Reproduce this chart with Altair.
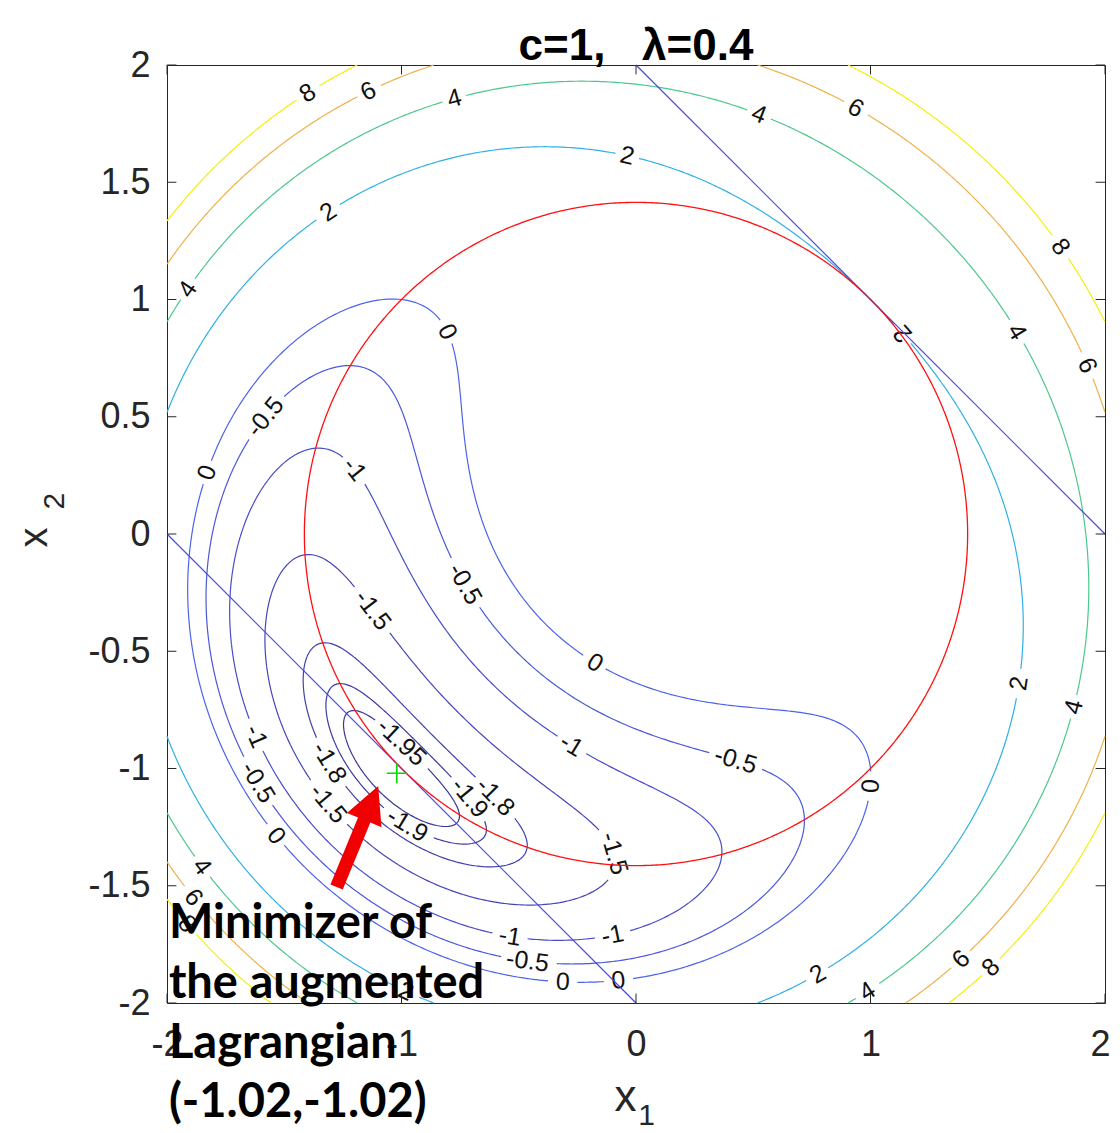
import numpy as np
import pandas as pd
import altair as alt

# ---------------- problem parameters (from the title) ----------------
C_PEN = 1.0
LAMBDA = 0.4

# contour levels and their colours
levels = [-1.95, -1.9, -1.8, -1.5, -1, -0.5, 0, 2, 4, 6, 8]
level_colors = ["#3b3796", "#3e3aa0", "#4240ab", "#4545bb", "#484dcb", "#4a57dc",
                "#4c63ea", "#30b0e4", "#4cc88c", "#efb14a", "#f5ef0c"]

xticks = [-2, -1, 0, 1, 2]
yticks = [-2, -1.5, -1, -0.5, 0, 0.5, 1, 1.5, 2]

# inline contour labels (text, approximate position, reading angle)
label_text = ["8", "6", "4", "2", "4", "2", "4", "6", "8", "4", "6", "2",
              "0", "-0.5", "0", "-1", "-0.5", "-1.5", "0", "-1", "-0.5", "0",
              "2", "4", "-1.95", "-1.8", "-1.5", "-1", "-0.5", "0", "-1.9",
              "-1.9", "-1.8", "-1.5", "4", "6", "8", "2", "-1", "-1", "-0.5",
              "0", "0", "2", "4", "6", "8"]
label_x = [-1.399, -1.147, -0.780, -1.318, -1.915, -0.038, 0.529, 0.942, 1.808,
           1.625, 1.927, 1.134, -0.806, -1.574, -1.829, -1.207, -0.729, -1.126,
           -0.179, -0.273, 0.422, 1.006, 1.638, 1.881, -1.006, -1.318, -1.318,
           -1.625, -1.625, -1.539, -0.977, -0.708, -0.610, -0.132, -1.859,
           -1.881, -1.906, -0.985, -0.537, -0.098, -0.461, -0.311, -0.068,
           0.772, 0.989, 1.390, 1.522]
label_y = [1.885, 1.893, 1.851, 1.373, 1.041, 1.616, 1.795, 1.817, 1.224, 0.870,
           0.721, 0.857, 0.857, 0.495, 0.260, 0.273, -0.209, -0.333, -0.550,
           -0.908, -0.977, -1.070, -0.644, -0.738, -0.900, -0.985, -1.147,
           -0.866, -1.062, -1.296, -1.241, -1.126, -1.134, -1.369, -1.424,
           -1.552, -1.655, -1.966, -1.701, -1.701, -1.817, -1.910, -1.910,
           -1.881, -1.953, -1.817, -1.851]
label_angle = [-35, -30, -15, -35, -60, 5, 20, 25, 55, 62, 70, -135, 75, -50,
               -70, 50, 60, 45, 15, 25, 10, -85, -75, -60, 35, 60, 55, 65, 60,
               55, 20, 60, 55, 85, 55, 50, 50, 45, 5, -10, 5, 0, -5, -30, -20,
               -35, -40]

# the two tangent lines x1 + x2 = +2 and x1 + x2 = -2
line_x = [0, -2]
line_y = [2, 0]
line_x2 = [2, 0]
line_y2 = [0, -2]

minimizer_x = [-1.02]
minimizer_y = [-1.02]

note_lines = ["Minimizer of", "the augmented", "Lagrangian", "(-1.02,-1.02)"]
note_x = [-1.992, -1.992, -1.992, -1.992]
note_y = [-1.723, -1.979, -2.235, -2.486]

arrow_x = [-1.188]
arrow_y = [-1.290]

title_text = ["c=1,\u00a0\u00a0\u00a0\u03bb=0.4"]
title_x = [0.0]
title_y = [2.022]

axis_title_text = ["x", "1", "x", "2"]
axis_title_x = [-0.045, 0.045, -2.562, -2.478]
axis_title_y = [-2.405, -2.480, -0.015, 0.14]
axis_title_size = [44, 30, 40, 30]
axis_title_angle = [0, 0, 270, 270]

PX = 938 / 4.0  # pixels per data unit

# ---------------- contour computation ----------------
N = 321
gx = np.linspace(-2, 2, N)
gy = np.linspace(-2, 2, N)
X, Y = np.meshgrid(gx, gy, indexing="ij")


def f_aug(x1, x2):
    r = x1 ** 2 + x2 ** 2 - 2.0
    return x1 + x2 + LAMBDA * r + 0.5 * C_PEN * r ** 2


def grad_aug(x1, x2):
    r = x1 ** 2 + x2 ** 2 - 2.0
    k = 2.0 * (LAMBDA + C_PEN * r)
    return 1 + k * x1, 1 + k * x2


def march(F, level):
    B = F > level
    case = (B[:-1, :-1].astype(int) + 2 * B[1:, :-1] + 4 * B[1:, 1:] + 8 * B[:-1, 1:])
    ii, jj = np.nonzero((case > 0) & (case < 15))
    adj = {}

    def link(a, b):
        adj.setdefault(a, []).append(b)
        adj.setdefault(b, []).append(a)

    for i, j in zip(ii.tolist(), jj.tolist()):
        c = int(case[i, j])
        e0 = (0, i, j); e1 = (1, i + 1, j); e2 = (0, i, j + 1); e3 = (1, i, j)
        if c in (1, 14):
            link(e3, e0)
        elif c in (2, 13):
            link(e0, e1)
        elif c in (3, 12):
            link(e3, e1)
        elif c in (4, 11):
            link(e1, e2)
        elif c in (6, 9):
            link(e0, e2)
        elif c in (7, 8):
            link(e3, e2)
        elif c == 5:
            if F[i:i + 2, j:j + 2].mean() > level:
                link(e0, e1); link(e2, e3)
            else:
                link(e3, e0); link(e1, e2)
        elif c == 10:
            if F[i:i + 2, j:j + 2].mean() > level:
                link(e3, e0); link(e1, e2)
            else:
                link(e0, e1); link(e2, e3)

    def pt(e):
        o, i, j = e
        if o == 0:
            a, b = F[i, j], F[i + 1, j]
            s = (level - a) / (b - a)
            return (gx[i] + s * (gx[i + 1] - gx[i]), gy[j])
        a, b = F[i, j], F[i, j + 1]
        s = (level - a) / (b - a)
        return (gx[i], gy[j] + s * (gy[j + 1] - gy[j]))

    visited = set()

    def walk(start):
        path = [start]
        visited.add(start)
        cur = start
        while True:
            nxt = [n for n in adj[cur] if n not in visited]
            if not nxt:
                break
            cur = nxt[0]
            visited.add(cur)
            path.append(cur)
        return path

    paths = []
    for e, nb in adj.items():
        if len(nb) == 1 and e not in visited:
            paths.append(walk(e))
    for e in list(adj.keys()):
        if e not in visited:
            p = walk(e)
            p.append(p[0])
            paths.append(p)
    return [np.array([pt(e) for e in p]) for p in paths if len(p) > 1]


def cut(path, centres, radii):
    keep = np.ones(len(path), bool)
    for (cx, cy), r in zip(centres, radii):
        keep &= np.hypot(path[:, 0] - cx, path[:, 1] - cy) > r
    pieces, cur = [], []
    for k, flag in enumerate(keep):
        if flag:
            cur.append(path[k])
        else:
            if len(cur) > 1:
                pieces.append(np.array(cur))
            cur = []
    if len(cur) > 1:
        pieces.append(np.array(cur))
    return pieces


CHAR_W = {"-": 0.333, ".": 0.278}
LABEL_FS = 25

F = f_aug(X, Y)
line_rows = []
lab_rows = []
for li, lev in enumerate(levels):
    paths = march(F, lev)
    pts = np.vstack(paths)
    centres, radii = [], []
    for t, lx, ly, la in zip(label_text, label_x, label_y, label_angle):
        if not np.isclose(float(t), lev):
            continue
        k = np.argmin(np.hypot(pts[:, 0] - lx, pts[:, 1] - ly))
        sx, sy = pts[k]
        gxv, gyv = grad_aug(sx, sy)
        tx, ty = -gyv, gxv
        a = np.degrees(np.arctan2(-ty, tx))
        cands = [a, a + 180, a - 180, a + 360, a - 360]
        best = min(cands, key=lambda c: abs(((c - la + 180) % 360) - 180))
        best = ((best + 180) % 360) - 180
        w = sum(CHAR_W.get(ch, 0.556) for ch in t) * LABEL_FS
        centres.append((sx, sy))
        radii.append((w / 2 + 5) / PX)
        lab_rows.append({"t": t, "x": round(float(sx), 4), "y": round(float(sy), 4),
                         "ang": round(float(best), 1)})
    for pi, p in enumerate(paths):
        for qi, q in enumerate(cut(p, centres, radii)):
            pid = f"{li}_{pi}_{qi}"
            for o, (xx, yy) in enumerate(q):
                line_rows.append({"x": round(float(xx), 4), "y": round(float(yy), 4),
                                  "pid": pid, "o": o, "lev": str(lev)})

contour_df = pd.DataFrame(line_rows)
label_df = pd.DataFrame(lab_rows)

G = X ** 2 + Y ** 2 - 2.0
circ_rows = []
for pi, p in enumerate(march(G, 0.0)):
    for o, (xx, yy) in enumerate(p):
        circ_rows.append({"x": round(float(xx), 4), "y": round(float(yy), 4),
                          "pid": f"c{pi}", "o": o})
circle_df = pd.DataFrame(circ_rows)

tl = 0.04
tick_rows = []
for v in xticks:
    tick_rows.append({"x": v, "y": -2, "x2": v, "y2": -2 + tl})
    tick_rows.append({"x": v, "y": 2, "x2": v, "y2": 2 - tl})
for v in yticks:
    tick_rows.append({"x": -2, "y": v, "x2": -2 + tl, "y2": v})
    tick_rows.append({"x": 2, "y": v, "x2": 2 - tl, "y2": v})
tick_df = pd.DataFrame(tick_rows)

lines_df = pd.DataFrame({"x": line_x, "y": line_y, "x2": line_x2, "y2": line_y2})
min_df = pd.DataFrame({"x": minimizer_x, "y": minimizer_y})
note_df = pd.DataFrame({"t": note_lines, "x": note_x, "y": note_y})
arrow_df = pd.DataFrame({"x": arrow_x, "y": arrow_y})
title_df = pd.DataFrame({"t": title_text, "x": title_x, "y": title_y})
atitle_df = pd.DataFrame({"t": axis_title_text, "x": axis_title_x, "y": axis_title_y,
                          "fs": axis_title_size, "ang": axis_title_angle})

# ---------------- chart ----------------
XS = alt.Scale(domain=[-2, 2], nice=False, zero=False)
YS = alt.Scale(domain=[-2, 2], nice=False, zero=False)
AX_COMMON = dict(title=None, grid=False, domain=False, ticks=False, tickSize=0,
                 labelFontSize=36, labelFont="Liberation Sans", labelColor="#262626",
                 labelOverlap=False, labelFlush=False, labelExpr="datum.value + ''")
AXX = alt.Axis(values=xticks, labelPadding=24,
               labelOffset={"condition": {"test": "datum.value == 2", "value": -5},
                            "value": 0},
               **AX_COMMON)
AXY = alt.Axis(values=yticks, labelPadding=17, **AX_COMMON)


def enc_xy():
    return dict(x=alt.X("x:Q", scale=XS, axis=AXX), y=alt.Y("y:Q", scale=YS, axis=AXY))


contours = alt.Chart(contour_df).mark_line(strokeWidth=1.2).encode(
    **enc_xy(),
    detail="pid:N",
    order="o:Q",
    color=alt.Color("lev:N", scale=alt.Scale(domain=[str(v) for v in levels],
                                             range=level_colors), legend=None),
)

labels = alt.Chart(label_df).mark_text(font="Liberation Sans", fontSize=LABEL_FS,
                                       color="#111111", align="center",
                                       baseline="middle").encode(
    **enc_xy(),
    text="t:N",
    angle=alt.Angle("ang:Q", scale=None),
)

tangents = alt.Chart(lines_df).mark_rule(color="#4646f0", strokeWidth=1.2).encode(
    **enc_xy(), x2="x2:Q", y2="y2:Q")

circle = alt.Chart(circle_df).mark_line(color="#ff1010", strokeWidth=1.3).encode(
    **enc_xy(), detail="pid:N", order="o:Q")

ticks = alt.Chart(tick_df).mark_rule(color="#262626", strokeWidth=1).encode(
    **enc_xy(), x2="x2:Q", y2="y2:Q")

plus = alt.Chart(min_df).mark_point(shape="M-1,0L1,0M0,-1L0,1", filled=False,
                                    color="#00dd00", strokeWidth=1.6, size=400,
                                    opacity=1).encode(**enc_xy())

ARROW = "M0,-1L0.342,-0.326L0.122,-0.326L0.122,1L-0.122,1L-0.122,-0.326L-0.342,-0.326Z"
arrow = alt.Chart(arrow_df).mark_point(shape=ARROW, filled=True, fill="#f00000",
                                       strokeWidth=0, opacity=1, size=11925,
                                       angle=22.4).encode(**enc_xy())

note = alt.Chart(note_df).mark_text(font="Lato", fontWeight="bold", fontSize=47,
                                    color="#000000", align="left",
                                    baseline="alphabetic").encode(
    **enc_xy(), text="t:N")

title = alt.Chart(title_df).mark_text(font="Liberation Sans", fontWeight="bold",
                                      fontSize=44, color="#000000", align="center",
                                      baseline="alphabetic").encode(
    **enc_xy(), text="t:N")

atitles = alt.Chart(atitle_df).mark_text(font="Liberation Sans", color="#262626",
                                         align="center", baseline="middle").encode(
    **enc_xy(),
    text="t:N",
    size=alt.Size("fs:Q", scale=None),
    angle=alt.Angle("ang:Q", scale=None),
)

chart = alt.layer(contours, labels, tangents, circle, ticks, plus, atitles, title,
                  note, arrow).properties(
    width=938,
    height=938,
    autosize=alt.AutoSizeParams(type="none"),
    padding={"left": 159, "top": 57, "right": 7, "bottom": 128},
    background="white",
).configure_view(stroke="#262626", strokeWidth=1)

chart.save("out.html", embed_options={"renderer": "svg", "actions": False})
